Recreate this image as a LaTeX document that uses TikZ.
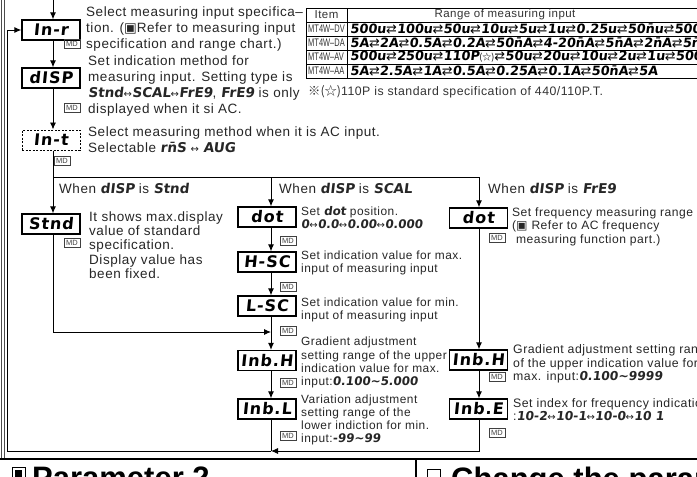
\documentclass[tikz,border=0pt]{standalone}
\usepackage{fontspec}
\setmainfont{Liberation Sans}[LetterSpace=4]
\newfontfamily\headfont{Liberation Sans}
\newfontfamily\segfont{DejaVu Sans}[FakeSlant=0.12]
\newfontfamily\boxfont{DejaVu Sans}[FakeSlant=0.1, LetterSpace=6]
\newfontfamily\symfont{DejaVu Sans}
\newfontfamily\narrowfont{Liberation Sans}[FakeStretch=0.68]
\newfontfamily\cjkfont{Noto Sans CJK KR}
\usetikzlibrary{arrows.meta}

% seven-segment style words inside running text
\newcommand\sg[1]{{\segfont\bfseries #1}}
\newcommand\lra{{\symfont\mdseries\fontsize{10}{10}\selectfont ↔}}
\newcommand\xch{{\symfont\mdseries ⇄}}

\begin{document}
\begin{tikzpicture}[x=1pt,y=-1pt,
  disp/.style={draw, line width=1.3pt, minimum width=58pt, minimum height=20pt,
    inner sep=0pt, font=\boxfont\bfseries\fontsize{16}{16}\selectfont},
  dispdash/.style={disp, line width=1pt, dash pattern=on 2pt off 1.5pt},
  md/.style={draw=black!75, line width=0.5pt, minimum width=16pt, minimum height=9pt,
    inner sep=0pt, font=\headfont\fontsize{7.5}{7.5}\selectfont, text=black!75},
  desc/.style={anchor=west, align=left, inner sep=0pt, text=black!85,
    font=\fontsize{13.5}{16}\selectfont},
  descs/.style={desc, font=\fontsize{13.5}{14.3}\selectfont},
  descm/.style={desc, font=\fontsize{11.9}{13.1}\selectfont},
  descr/.style={desc, font=\fontsize{12.3}{13.6}\selectfont},
  descf/.style={desc, font=\fontsize{12.1}{13.4}\selectfont},
  flow/.style={line width=0.9pt},
  arr/.style={flow, -{Latex[length=7pt,width=6pt]}},
  tbl/.style={line width=0.7pt},
  cell/.style={inner sep=0pt, text=black!80, font=\fontsize{11.5}{11.5}\selectfont},
  rangetxt/.style={anchor=west, inner sep=0pt, font=\segfont\bfseries\fontsize{12.8}{12.8}\selectfont},
  head/.style={anchor=base west, inner sep=0pt, font=\headfont\bfseries\fontsize{31}{31}\selectfont}
]
\useasboundingbox (0,0) rectangle (697,477);
\clip (0,0) rectangle (697,477);

% x positions of the three vertical flow lines
\coordinate (lline) at (53,0);
\coordinate (mline) at (271,0);
\coordinate (rline) at (479,0);

% ---------- left column ----------
\node[disp] (inr) at (51,30) {In-r};
\node[md] (mdinr) at (72,44) {MD};
\node[desc] (tinr) at (86,29) {Select measuring input specifica–\\tion. ({\symfont ▣}Refer to measuring input\\specification and range chart.)};

\node[disp] (disp) at (51,78) {dISP};
\node[md] (mddisp) at (72,108) {MD};
\node[desc] (tdisp) at (88,86) {Set indication method for\\measuring input. Setting type is\\\sg{Stnd}\lra\sg{SCAL}\lra\sg{FrE9}, \sg{FrE9} is only\\displayed when it si AC.};

\node[dispdash] (int) at (51,140) {In-t};
\node[md] (mdint) at (62,161) {MD};
\node[desc] (tint) at (88,140) {Select measuring method when it is AC input.\\Selectable \sg{r\=nS} \lra{} \sg{AUG}};

\node[desc] (wstnd) at (59,188) {When \sg{dISP} is \sg{Stnd}};
\node[disp] (stnd) at (51,224) {Stnd};
\node[md] (mdstnd) at (72,243) {MD};
\node[descs] (tstnd) at (89,245) {It shows max.display\\value of standard\\specification.\\Display value has\\been fixed.};

% ---------- middle column ----------
\node[desc] (wscal) at (279,188) {When \sg{dISP} is \sg{SCAL}};
\node[disp] (dot) at (267,217) {dot};
\node[md] (mddot) at (288,241) {MD};
\node[descm] (tdot) at (301,217.5) {Set \sg{dot} position.\\\sg{0}\lra\sg{0.0}\lra\sg{0.00}\lra\sg{0.000}};

\node[disp] (hsc) at (267,262) {H-SC};
\node[md] (mdhsc) at (288,287) {MD};
\node[descm] (thsc) at (301,262.5) {Set indication value for max.\\input of measuring input};

\node[disp] (lsc) at (267,306) {L-SC};
\node[md] (mdlsc) at (288,331) {MD};
\node[descm] (tlsc) at (301,310) {Set indication value for min.\\input of measuring input};

\node[disp] (inbh) at (267,360.5) {Inb.H};
\node[md] (mdinbh) at (288,383) {MD};
\node[descm] (tinbh) at (301,362.5) {Gradient adjustment\\setting range of the upper\\indication value for max.\\input:\sg{0.100\textasciitilde5.000}};

\node[disp] (inbl) at (267,409) {Inb.L};
\node[md] (mdinbl) at (288,436) {MD};
\node[descm] (tinbl) at (301,420) {Variation adjustment\\setting range of the\\lower indiction for min.\\input:\sg{-99\textasciitilde99}};

% ---------- right column ----------
\node[desc] (wfreq) at (488,188) {When \sg{dISP} is \sg{FrE9}};
\node[disp] (dotf) at (478.5,218) {dot};
\node[md] (mddotf) at (497,238) {MD};
\node[descf] (tdotf) at (512,226.5) {Set frequency measuring range\\({\symfont ▣} Refer to AC frequency\\\ measuring function part.)};

\node[disp] (inbhf) at (478.5,360) {Inb.H};
\node[md] (mdinbhf) at (497,377) {MD};
\node[descr] (tinbhf) at (513,364) {Gradient adjustment setting range\\of the upper indication value for\\max. input:\sg{0.100\textasciitilde9999}};

\node[disp] (inbe) at (478.5,409) {Inb.E};
\node[md] (mdinbe) at (497,432.5) {MD};
\node[descr] (tinbe) at (513,409.5) {Set index for frequency indication\\:\sg{10-2}\lra\sg{10-1}\lra\sg{10-0}\lra\sg{10 1}};

% ---------- connectors ----------
\coordinate (top) at (53,0);
\coordinate (bL) at (53,177);
\coordinate (bM) at (271,177);
\coordinate (bR) at (479,177);
\coordinate (sc) at (53,332);
\coordinate (sj) at (271,332);
\coordinate (lm) at (271,451);
\coordinate (lr) at (479,451);
\coordinate (ll) at (7.5,451);
\coordinate (lt) at (7.5,30);

\draw[arr] (top) -- (inr.north -| lline);
\draw[arr] (inr.south -| lline) -- (disp.north -| lline);
\draw[arr] (disp.south -| lline) -- (int.north -| lline);
\draw[arr] (int.south -| lline) -- (stnd.north -| lline);
\draw[flow] (bL) -- (bR);
\draw[arr] (bM) -- (dot.north -| mline);
\draw[arr] (bR) -- (dotf.north -| rline);
\draw[arr] (dot.south -| mline) -- (hsc.north -| mline);
\draw[arr] (hsc.south -| mline) -- (lsc.north -| mline);
\draw[arr] (lsc.south -| mline) -- (inbh.north -| mline);
\draw[arr] (inbh.south -| mline) -- (inbl.north -| mline);
\draw[arr] (stnd.south -| lline) -- (sc) -- (sj);
\draw[arr] (dotf.south -| rline) -- (inbhf.north -| rline);
\draw[arr] (inbhf.south -| rline) -- (inbe.north -| rline);
\draw[flow] (inbl.south -| mline) -- (lm);
\draw[arr] (inbe.south -| rline) -- (lr) -- (lm);
\draw[arr] (lm) -- (ll) -- (lt) -- (inr.west);

% ---------- range chart ----------
\draw[tbl] (306,8) rectangle (720,78);
\foreach \yy in {22,36,50,64} \draw[tbl] (306,\yy) -- (720,\yy);
\draw[tbl] (347,8) -- (347,78);
\node[cell] (hitem) at (326.5,15) {Item};
\node[cell] (hrange) at (505,15) {Range of measuring input};
\node[cell, anchor=west] (rdv) at (308,29) {\narrowfont\fontsize{11}{11}\selectfont MT4W–DV};
\node[cell, anchor=west] (rda) at (308,43) {\narrowfont\fontsize{11}{11}\selectfont MT4W–DA};
\node[cell, anchor=west] (rav) at (308,57) {\narrowfont\fontsize{11}{11}\selectfont MT4W–AV};
\node[cell, anchor=west] (raa) at (308,71) {\narrowfont\fontsize{11}{11}\selectfont MT4W–AA};
\node[rangetxt] (vdv) at (350,29) {500u\xch100u\xch50u\xch10u\xch5u\xch1u\xch0.25u\xch50\=nu\xch500\=nu};
\node[rangetxt] (vda) at (350,43) {5A\xch2A\xch0.5A\xch0.2A\xch50\=nA\xch4-20\=nA\xch5\=nA\xch2\=nA\xch5\=nA};
\node[rangetxt] (vav) at (350,57) {500u\xch250u\xch110P{\cjkfont\mdseries\fontsize{9}{9}\selectfont (☆)}\xch50u\xch20u\xch10u\xch2u\xch1u\xch500\=nu};
\node[rangetxt] (vaa) at (350,71) {5A\xch2.5A\xch1A\xch0.5A\xch0.25A\xch0.1A\xch50\=nA\xch5A};
\node[cell, anchor=west, font=\fontsize{12.3}{12.3}\selectfont] (note) at (308,92) {{\cjkfont ※(☆)}110P is standard specification of 440/110P.T.};

% ---------- frame and following headings ----------
\draw[line width=0.6pt, black!70] (1,0) -- (1,459);
\draw[line width=0.6pt, black!70] (3.8,0) -- (3.8,459);
\draw[line width=1.8pt] (0,459) -- (697,459);
\draw[line width=1.2pt] (416,459) -- (416,477);
\draw[line width=1pt] (12,467) rectangle (25,480);
\fill (15,470) rectangle (22,477);
\node[head] (hpar) at (32,488) {Parameter 2};
\draw[line width=1pt] (427,469) rectangle (440,482);
\node[head] (hchg) at (451,489) {Change the parameter};
\end{tikzpicture}
\end{document}
